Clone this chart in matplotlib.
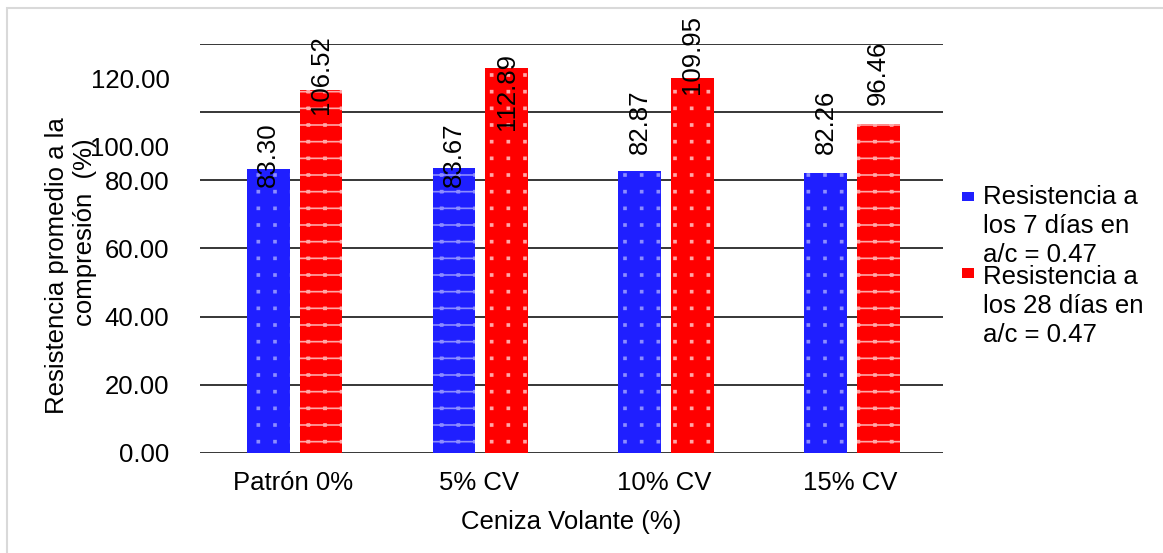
import matplotlib
matplotlib.use("Agg")
import matplotlib.pyplot as plt
import matplotlib.hatch as mhatch
from matplotlib.path import Path
from matplotlib.patches import Rectangle
import numpy as np

categories = ["Patrón 0%", "5% CV", "10% CV", "15% CV"]
res_7 = [83.30, 83.67, 82.87, 82.26]
res_28 = [106.52, 112.89, 109.95, 96.46]
series_names = ["Resistencia a\nlos 7 días en\na/c = 0.47", "Resistencia a\nlos 28 días en\na/c = 0.47"]
ytick_labels = ["0.00", "20.00", "40.00", "60.00", "80.00", "100.00", "120.00"]

# layout (label placement as drawn in the original)
label_y_7 = [87.4, 87.4, 97.1, 97.1]
label_y_28 = [110.9, 106.1, 116.8, 111.5]
ytick_pos = [0, 20, 40, 60, 80, 90, 110]
hatch_7 = ['.', '.-', '.', '.']
hatch_28 = ['.-', '.', '.', '.-']


# square-grid dot texture (instead of matplotlib's staggered dots)
class GridDots(mhatch.HatchPatternBase):
    def __init__(self, hatch, density):
        self.n = hatch.count('.') * density
        self.shape = Path.unit_rectangle()
        self.num_vertices = self.n * self.n * len(self.shape.vertices)

    def set_vertices_and_codes(self, vertices, codes):
        step = 1.0 / self.n
        shape = (self.shape.vertices - 0.5) * step * 0.12
        nv = len(shape)
        k = 0
        for i in range(self.n):
            for j in range(self.n):
                vertices[k:k + nv] = shape + [(i + 0.5) * step, (j + 0.5) * step]
                codes[k:k + nv] = self.shape.codes
                k += nv


mhatch._hatch_types = [t for t in mhatch._hatch_types
                       if t.__name__ != 'SmallFilledCircles'] + [GridDots]

plt.rcParams['font.family'] = ['Liberation Sans', 'DejaVu Sans']
plt.rcParams['hatch.linewidth'] = 1.2
FS = 18.5
blue = '#1f1fff'
red = '#ff0000'

W, H = 1163, 553
fig = plt.figure(figsize=(W/100, H/100), dpi=100)
ax = fig.add_axes([200/W, 1-453/H, (943-200)/W, (453-44)/H])

x = np.arange(len(categories))
bw = 0.23
off_b, off_r = -0.132, 0.151
for i in range(len(categories)):
    ax.bar(x[i]+off_b, res_7[i], bw, color=blue, linewidth=0, zorder=3)
    ax.bar(x[i]+off_b, res_7[i], bw, color='none', edgecolor='#8c8cff', linewidth=0,
           hatch=hatch_7[i], zorder=4)
    ax.bar(x[i]+off_r, res_28[i], bw, color=red, linewidth=0, zorder=3)
    ax.bar(x[i]+off_r, res_28[i], bw, color='none', edgecolor='#ffa8a8', linewidth=0,
           hatch=hatch_28[i], zorder=4)
    ax.text(x[i]+off_b, label_y_7[i], f"{res_7[i]:.2f}", rotation=90, ha='center',
            va='center', fontsize=FS, zorder=5)
    ax.text(x[i]+off_r, label_y_28[i], f"{res_28[i]:.2f}", rotation=90, ha='center',
            va='center', fontsize=FS, zorder=5)

ax.set_xlim(-0.5, 3.5)
ax.set_ylim(0, 120)
ax.set_xticks(x)
ax.set_xticklabels(categories, fontsize=FS)
ax.set_yticks(ytick_pos)
ax.set_yticklabels(ytick_labels, fontsize=FS)
ax.tick_params(axis='both', length=0)
ax.tick_params(axis='y', pad=22)
ax.tick_params(axis='x', pad=13)
for yv in range(0, 121, 20):
    ax.axhline(yv, color='black', linewidth=1.1, zorder=2)
for s in ['top', 'right', 'left', 'bottom']:
    ax.spines[s].set_visible(False)

fig.text(571/W, 1-522/H, "Ceniza Volante (%)", ha='center', va='center', fontsize=FS)
fig.text(57/W, 1-266/H, "Resistencia promedio a la", rotation=90,
         ha='center', va='center', fontsize=FS)
fig.text(85/W, 1-232/H, "compresión  (%)", rotation=90,
         ha='center', va='center', fontsize=FS)

# legend
fig.patches.append(Rectangle((962/W, 1-201/H), 12/W, 9/H, transform=fig.transFigure,
                             facecolor=blue, edgecolor='none'))
fig.patches.append(Rectangle((962/W, 1-278/H), 12/W, 10/H, transform=fig.transFigure,
                             facecolor=red, edgecolor='none'))
fig.text(983/W, 1-262/H, series_names[0], ha='left', va='baseline', fontsize=FS, linespacing=1.27)
fig.text(983/W, 1-342/H, series_names[1], ha='left', va='baseline', fontsize=FS, linespacing=1.27)

# outer border
fig.patches.append(Rectangle((7/W, -0.05), 1.05, 1-8/H+0.05, transform=fig.transFigure,
                             facecolor='none', edgecolor='#d9d9d9', linewidth=1.5))

fig.savefig("out.png", dpi=100)
